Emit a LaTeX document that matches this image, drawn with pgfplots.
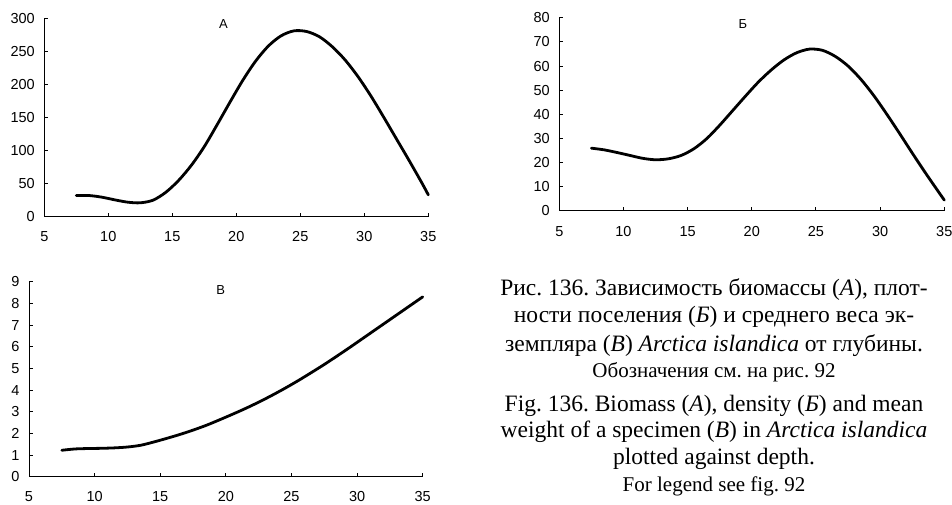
\documentclass[border=0pt]{standalone}
\usepackage{fontspec}
\setmainfont{Liberation Serif}
\newfontfamily\arial{Liberation Sans}
\usepackage{pgfplots}
\pgfplotsset{compat=1.18}
\frenchspacing

\pgfplotsset{
  panel/.style={
    scale only axis,
    anchor=south west,
    axis x line*=bottom,
    axis y line*=left,
    axis line style={black, line width=1pt},
    tick align=inside,
    major tick length=4pt,
    tick style={black, line width=1pt},
    xmin=5, xmax=35,
    xtick={5,10,...,35},
    enlargelimits=false,
    clip=false,
    /pgf/number format/assume math mode=true,
    ticklabel style={font=\arial\fontsize{14.5}{17}\selectfont},
    xticklabel style={yshift=-11.5pt},
    yticklabel style={xshift=-6pt},
  },
  curve/.style={black, line width=2.8pt, smooth, tension=0.5, line cap=round},
}

\begin{document}
\begin{tikzpicture}
\useasboundingbox (0,0) rectangle (952pt,505pt);

% Panel A
\begin{axis}[panel, at={(44.3pt,288.3pt)}, width=384pt, height=198.4pt,
  ymin=0, ymax=300, ytick={0,50,...,300}]
\addplot[curve] coordinates {
(7.5,32) (8.5,32) (9.5,29.5) (10.5,25.5) (11.5,22) (12.5,21) (13.5,25)
(14.5,37) (15.5,55) (16.5,78) (17.5,106) (18.5,139) (19.5,173) (20.5,206)
(21.5,235) (22.5,258) (23.5,273.5) (24.5,281) (25.5,280) (26.5,272)
(27.5,257) (28.5,237) (29.5,212) (30.5,183) (31.5,151) (32.5,118)
(33.5,85) (34.5,51) (35,33)};
\node[font=\arial\fontsize{13}{15}\selectfont] at (axis cs:19,291) {А};
\end{axis}

% Panel B (Б)
\begin{axis}[panel, at={(559.3pt,294pt)}, width=385pt, height=193.3pt,
  ymin=0, ymax=80, ytick={0,10,...,80}]
\addplot[curve] coordinates {
(7.5,26) (8.5,25.3) (9.5,24.2) (10.5,23) (11.5,21.8) (12.5,21.2) (13.5,21.6)
(14.5,23) (15.5,25.8) (16.5,30) (17.5,35.5) (18.5,41.5) (19.5,47.5)
(20.5,53.3) (21.5,58.3) (22.5,62.5) (23.5,65.5) (24.5,67) (25.5,66.5)
(26.5,64) (27.5,60) (28.5,54.5) (29.5,47.8) (30.5,40.2) (31.5,32.2) (32.5,24)
(33.5,16) (34.5,8.3) (35,4.5)};
\node[font=\arial\fontsize{13}{15}\selectfont] at (axis cs:19.3,77.5) {Б};
\end{axis}

% Panel V (В)
\begin{axis}[panel, at={(29pt,28.3pt)}, width=393.7pt, height=195pt,
  ymin=0, ymax=9, ytick={0,1,...,9}]
\addplot[curve] coordinates {
(7.5,1.22) (8.5,1.28) (9.5,1.3) (10.5,1.31) (11.5,1.33) (12.5,1.37)
(13.5,1.45) (14.5,1.6) (15.5,1.77) (16.5,1.95) (17.5,2.15) (18.5,2.37)
(19.5,2.62) (20.5,2.88) (21.5,3.15) (22.5,3.44) (23.5,3.75) (24.5,4.08)
(25.5,4.43) (26.5,4.8) (27.5,5.18) (28.5,5.58) (29.5,5.99) (30.5,6.41)
(31.5,6.83) (32.5,7.25) (33.5,7.67) (34.5,8.09) (35,8.3)};
\node[font=\arial\fontsize{13}{15}\selectfont] at (axis cs:19.6,8.6) {В};
\end{axis}

% Caption
\begin{scope}[every node/.style={anchor=base, inner sep=0pt}]
\node[font=\fontsize{23.5}{27}\selectfont] at (714pt,209.5pt) {Рис. 136. Зависимость биомассы (\textit{А}), плот-};
\node[font=\fontsize{23.5}{27}\selectfont] at (714pt,182pt) {ности поселения (\textit{Б}) и среднего веса эк-};
\node[font=\fontsize{23.5}{27}\selectfont] at (714pt,153.5pt) {земпляра (\textit{В}) \textit{Arctica islandica} от глубины.};
\node[font=\fontsize{21}{24}\selectfont] at (714pt,127.5pt) {Обозначения см. на рис. 92};
\node[font=\fontsize{23.5}{27}\selectfont] at (714pt,93.5pt) {Fig. 136. Biomass (\textit{А}), density (\textit{Б}) and mean};
\node[font=\fontsize{23.5}{27}\selectfont] at (714pt,67pt) {weight of a specimen (\textit{В}) in \textit{Arctica islandica}};
\node[font=\fontsize{23.5}{27}\selectfont] at (714pt,40pt) {plotted against depth.};
\node[font=\fontsize{21}{24}\selectfont] at (714pt,13.5pt) {For legend see fig. 92};
\end{scope}
\end{tikzpicture}
\end{document}
